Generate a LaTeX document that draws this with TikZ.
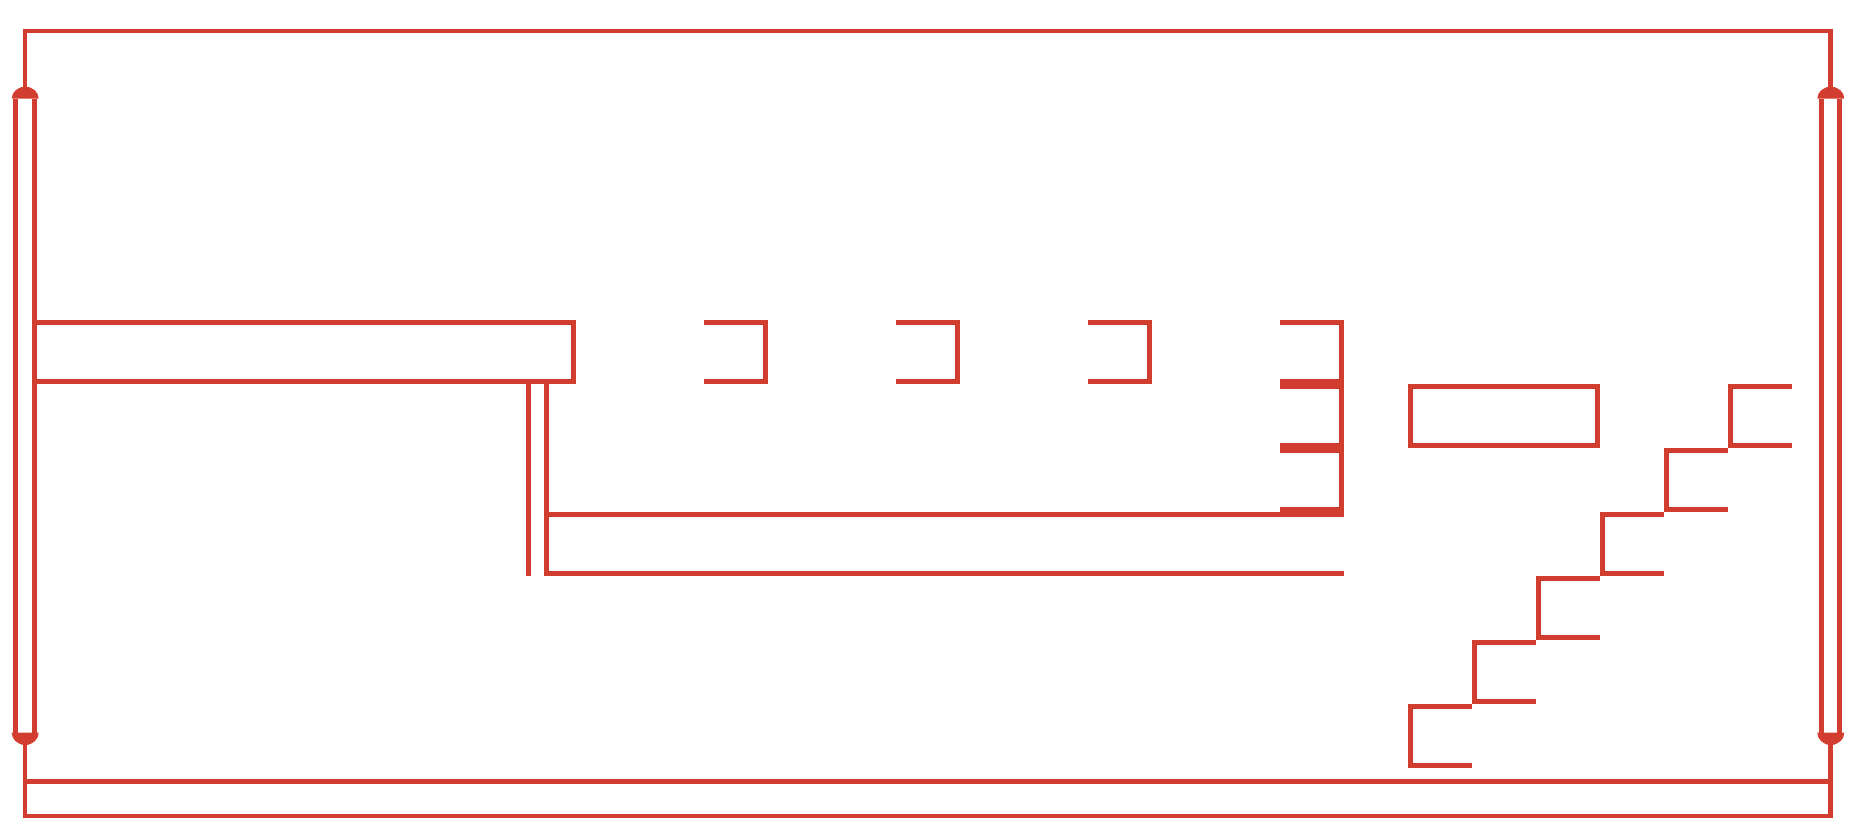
\documentclass[tikz,border=0pt]{standalone}
\definecolor{wred}{RGB}{210,61,48}
\begin{document}
\begin{tikzpicture}[x=1pt,y=-1pt,
  ln/.style={draw=wred,line width=4.7pt},
  domefill/.style={fill=wred}]
\useasboundingbox (0,0) rectangle (1856,832);
% outer frame
\draw[ln] (25,87) -- (25,31) -- (1830.7,31) -- (1830.7,87);
\draw[ln] (25,745) -- (25,816) -- (1830.7,816) -- (1830.7,745);
\draw[ln] (25,781.7) -- (1830.7,781.7);
% pillars
\foreach \cx in {25.2,1830.8}{
  \draw[ln] (\cx-9.5,98.7) -- (\cx-9.5,732.7);
  \draw[ln] (\cx+9.0,98.7) -- (\cx+9.0,732.7);
  \fill[domefill] (\cx-13.5,98.7) .. controls (\cx-13.5,92.1) and (\cx-7.45,86.7) .. (\cx,86.7)
     .. controls (\cx+7.45,86.7) and (\cx+13.5,92.1) .. (\cx+13.5,98.7) -- cycle;
  \fill[domefill] (\cx-13.5,732.7) .. controls (\cx-13.5,739.3) and (\cx-7.45,745) .. (\cx,745)
     .. controls (\cx+7.45,745) and (\cx+13.5,739.3) .. (\cx+13.5,732.7) -- cycle;
}
% band
\draw[ln] (36,322.3) -- (573.7,322.3) -- (573.7,381.7) -- (36,381.7);
% brackets
\foreach \bx in {704,896,1088}{
  \draw[ln] (\bx,322.3) -- (\bx+61.7,322.3) -- (\bx+61.7,381.7) -- (\bx,381.7);
}
% E bracket
\draw[ln] (1280,322.3) -- (1341.7,322.3) -- (1341.7,516.5);
\foreach \yy in {381.7,386.3,445.7,450.3,509.7}{
  \draw[ln] (1280,\yy) -- (1341.7,\yy);
}
% long lines
\draw[ln] (548,514.3) -- (1344,514.3);
\draw[ln] (546.3,383.5) -- (546.3,573.7) -- (1344,573.7);
\draw[ln] (528.3,383.5) -- (528.3,576);
% rectangle
\draw[ln] (1410.3,386.3) rectangle (1597.7,445.7);
% staircase
\foreach \i in {0,...,5}{
  \pgfmathsetmacro{\X}{1728-64*\i}
  \pgfmathsetmacro{\Y}{384+64*\i}
  \draw[ln] (\X+64,\Y+2.3) -- (\X+2.3,\Y+2.3) -- (\X+2.3,\Y+61.7) -- (\X+64,\Y+61.7);
}
\end{tikzpicture}
\end{document}
